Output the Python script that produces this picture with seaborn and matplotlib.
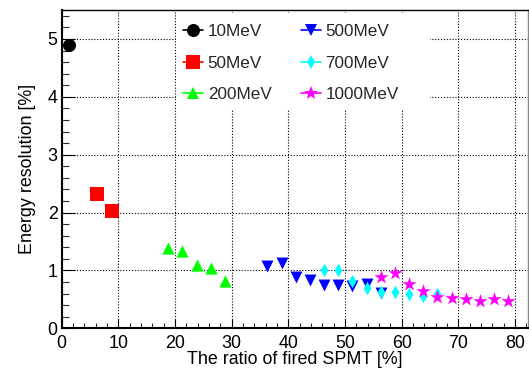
import numpy as np
import pandas as pd
import matplotlib
matplotlib.use("Agg")
import matplotlib.pyplot as plt
import seaborn as sns
from matplotlib.lines import Line2D
from matplotlib.patches import Rectangle
from matplotlib.ticker import MultipleLocator

# ---- data ----
labels = ["10MeV", "50MeV", "200MeV", "500MeV", "700MeV", "1000MeV"]
x_10 = [1.3]
y_10 = [4.89]
x_50 = [6.3, 8.8]
y_50 = [2.32, 2.03]
x_200 = [18.8, 21.3, 23.8, 26.3, 28.8]
y_200 = [1.38, 1.34, 1.10, 1.05, 0.82]
x_500 = [36.3, 38.8, 41.3, 43.8, 46.3, 48.8, 51.3, 53.8, 56.3]
y_500 = [1.08, 1.12, 0.88, 0.84, 0.75, 0.74, 0.73, 0.76, 0.61]
x_700 = [46.3, 48.8, 51.3, 53.8, 56.3, 58.8, 61.3, 63.8, 66.3]
y_700 = [1.00, 1.00, 0.81, 0.69, 0.62, 0.63, 0.60, 0.56, 0.60]
x_1000 = [56.3, 58.8, 61.3, 63.8, 66.3, 68.8, 71.3, 73.8, 76.3, 78.8]
y_1000 = [0.89, 0.95, 0.77, 0.64, 0.54, 0.52, 0.51, 0.48, 0.51, 0.48]

xs = [x_10, x_50, x_200, x_500, x_700, x_1000]
ys = [y_10, y_50, y_200, y_500, y_700, y_1000]

colors = ["#000000", "#ff0000", "#00ff00", "#0000ff", "#00ffff", "#ff00ff"]
markers = ["o", "s", "^", "v", "d", "*"]
sizes = [88, 92, 78, 74, 46, 115]

df = pd.concat([pd.DataFrame({"x": x, "y": y, "energy": lab})
                for x, y, lab in zip(xs, ys, labels)], ignore_index=True)

sns.set_theme(style="white")
plt.rcParams["font.family"] = ["Liberation Sans", "DejaVu Sans"]
FS = 12.9
LFS = 12.3

fig = plt.figure(figsize=(5.29, 3.68), dpi=100)
ax = fig.add_axes([61.7 / 529, (368 - 328.3) / 368, (527.5 - 61.7) / 529, (328.3 - 10) / 368])

for lab, col, mk, sz in zip(labels, colors, markers, sizes):
    sub = df[df["energy"] == lab]
    sns.scatterplot(data=sub, x="x", y="y", color=col, marker=mk, s=sz,
                    linewidth=0, ax=ax, zorder=3, legend=False)

ax.set_xlim(0, 82.2)
ax.set_ylim(0, 5.5)
ax.xaxis.set_major_locator(MultipleLocator(10))
ax.xaxis.set_minor_locator(MultipleLocator(2))
ax.yaxis.set_major_locator(MultipleLocator(1))
ax.yaxis.set_minor_locator(MultipleLocator(0.2))

ax.set_axisbelow(True)
ax.grid(True, which="major", color="black", linestyle=(0, (1, 1.6)), linewidth=0.8)

ax.tick_params(axis="x", which="major", direction="in", length=6.8, width=0.8,
               labelsize=FS, pad=5, colors="black", bottom=True, top=False)
ax.tick_params(axis="x", which="minor", direction="in", length=3.4, width=0.8, bottom=True)
ax.tick_params(axis="y", which="major", direction="in", length=9.4, width=0.8,
               labelsize=FS, pad=3, colors="black", left=True, right=False)
ax.tick_params(axis="y", which="minor", direction="in", length=4.7, width=0.8, left=True)

for side in ["left", "bottom"]:
    ax.spines[side].set_color("black")
    ax.spines[side].set_linewidth(1.5)
ax.spines["top"].set_color("black")
ax.spines["top"].set_linewidth(1.0)
ax.spines["right"].set_color("#888888")
ax.spines["right"].set_linewidth(1.0)

ax.set_xlabel("The ratio of fired SPMT [%]", fontsize=FS, color="black", labelpad=-1)
ax.set_ylabel("Energy resolution [%]", fontsize=FS, color="black", labelpad=8)

# legend background (white box hiding grid)
ax.add_patch(Rectangle((0.245, 0.686), 0.546, 0.304, transform=ax.transAxes,
                       facecolor="white", edgecolor="none", zorder=1))

handles = [Line2D([], [], color=c, marker=m, markersize=np.sqrt(s), markeredgewidth=0, lw=1.2)
           for c, m, s in zip(colors, markers, sizes)]
leg = ax.legend(handles, labels, ncol=2, loc="upper left", bbox_to_anchor=(0.2604, 0.955),
                frameon=False, fontsize=LFS, handlelength=1.2, handletextpad=0.25,
                columnspacing=1.7, labelspacing=0.95, borderpad=0, borderaxespad=0)
leg.set_zorder(5)

fig.savefig("out.png", dpi=100)
